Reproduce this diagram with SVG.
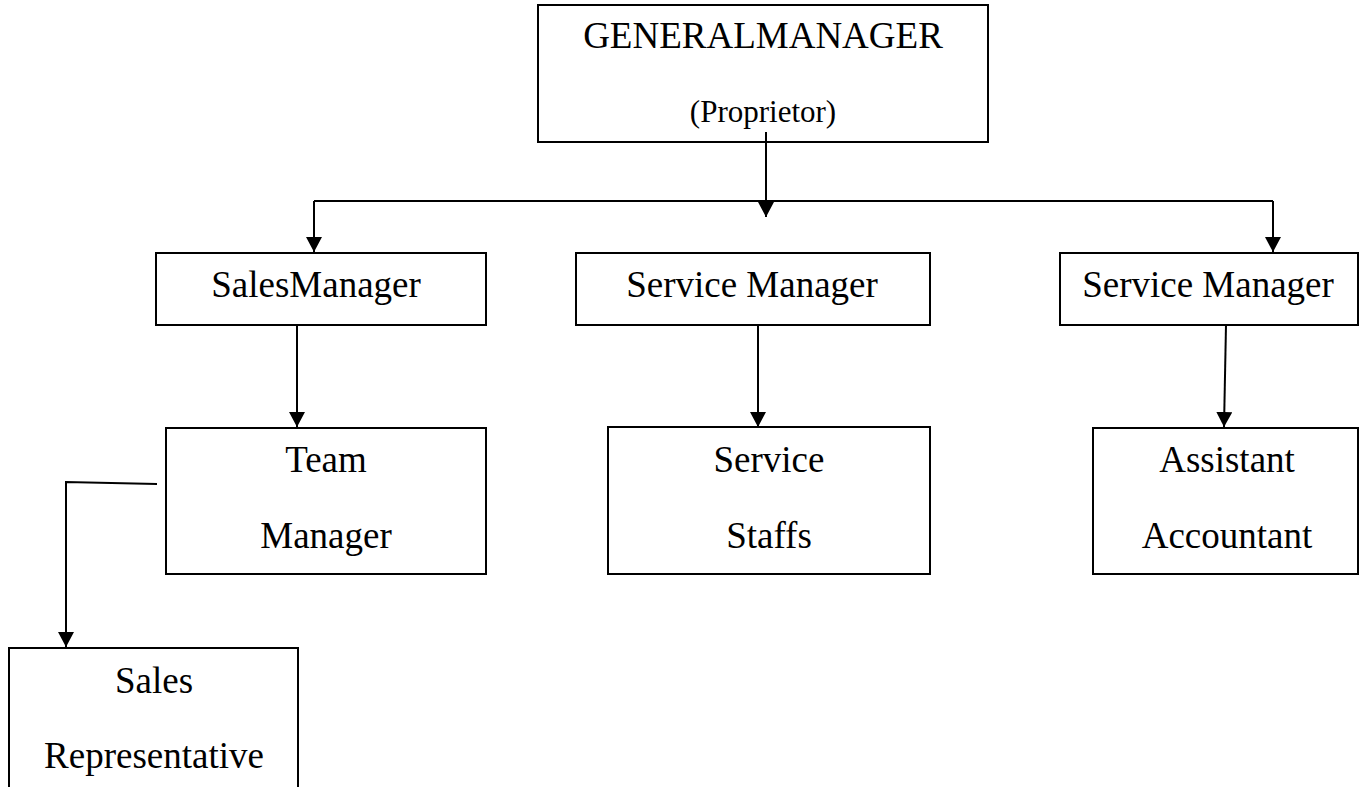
<svg xmlns="http://www.w3.org/2000/svg" width="1365" height="787" viewBox="0 0 1365 787">
<style>
.box{fill:#fff;stroke:#000;stroke-width:2}
.t{font-family:"Liberation Serif","Times New Roman",serif;font-size:37px;fill:#000;text-anchor:middle}
.s{font-size:31px}
.c{fill:none;stroke:#000;stroke-width:2}
</style>
<defs>
<marker id="ah" markerUnits="userSpaceOnUse" markerWidth="15" markerHeight="16" refX="15" refY="8" orient="auto" viewBox="0 0 15 16">
<path d="M0,0 L15,8 L0,16 z" fill="#000"/>
</marker>
</defs>
<rect width="1365" height="787" fill="#fff"/>
<g id="gm">
<rect class="box" x="538" y="5" width="450" height="137"/>
<text class="t" x="763" y="48">GENERALMANAGER</text>
<text class="t s" x="763" y="122">(Proprietor)</text>
</g>
<g id="salesmanager">
<rect class="box" x="156" y="253" width="330" height="72"/>
<text class="t" x="316" y="297">SalesManager</text>
</g>
<g id="servicemanager1">
<rect class="box" x="576" y="253" width="354" height="72"/>
<text class="t" x="752" y="297">Service Manager</text>
</g>
<g id="servicemanager2">
<rect class="box" x="1060" y="253" width="298" height="72"/>
<text class="t" x="1208" y="297">Service Manager</text>
</g>
<g id="teammanager">
<rect class="box" x="166" y="428" width="320" height="146"/>
<text class="t" x="326" y="472">Team</text>
<text class="t" x="326" y="548">Manager</text>
</g>
<g id="servicestaffs">
<rect class="box" x="608" y="427" width="322" height="147"/>
<text class="t" x="769" y="472">Service</text>
<text class="t" x="769" y="548">Staffs</text>
</g>
<g id="assistantaccountant">
<rect class="box" x="1093" y="428" width="265" height="146"/>
<text class="t" x="1227" y="472">Assistant</text>
<text class="t" x="1227" y="548">Accountant</text>
</g>
<g id="salesrep">
<rect class="box" x="9" y="648" width="289" height="160"/>
<text class="t" x="154" y="693">Sales</text>
<text class="t" x="154" y="768">Representative</text>
</g>
<g id="connectors">
<path class="c" d="M766,132 V217" marker-end="url(#ah)"/>
<path class="c" d="M314,201 H1273"/>
<path class="c" d="M314,201 V252" marker-end="url(#ah)"/>
<path class="c" d="M1273,201 V252" marker-end="url(#ah)"/>
<path class="c" d="M297,325 V427" marker-end="url(#ah)"/>
<path class="c" d="M758,325 V427" marker-end="url(#ah)"/>
<path class="c" d="M1226,325 L1224,427" marker-end="url(#ah)"/>
<path class="c" d="M157,484 L66,482 V647" marker-end="url(#ah)"/>
</g>
</svg>
